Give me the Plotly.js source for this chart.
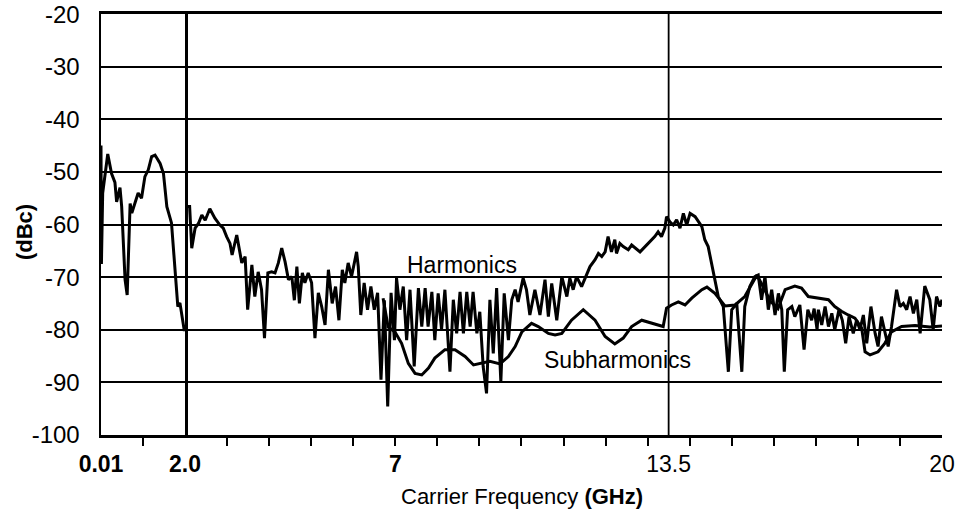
<!DOCTYPE html>
<html>
<head>
<meta charset="utf-8">
<script src="https://cdn.plot.ly/plotly-3.0.1.min.js"></script>
<style>html,body{margin:0;padding:0;background:#fff;}#chart{width:967px;height:517px;}</style>
</head>
<body>
<div id="chart"></div>
<script>
// Band 1: 0.01 - 2.0 GHz (compressed scale)
const harmLowX = [0.01, 0.02, 0.05, 0.17, 0.26, 0.34, 0.38, 0.46, 0.50, 0.58, 0.63, 0.70, 0.74, 0.82, 0.89, 0.97, 1.05, 1.13, 1.21, 1.29, 1.41, 1.49, 1.57, 1.68, 1.76, 1.83, 1.88, 1.94, 1.98, 2.00];
const harmLowY = [-45, -67.5, -54, -46.6, -50.3, -52, -55.7, -53, -56.6, -70.5, -73.4, -56, -57.8, -55.7, -54, -55, -50.9, -49.6, -47.1, -46.8, -48.4, -50.3, -56.6, -59.7, -69.2, -75.6, -74.9, -77.5, -80, -80];

// Band 2: 2 - 20 GHz, Harmonics
const harmX = [2.00, 2.00, 2.11, 2.16, 2.24, 2.32, 2.40, 2.48, 2.59, 2.71, 2.83, 2.91, 2.99, 3.07, 3.12, 3.23, 3.35, 3.43, 3.49, 3.59, 3.66, 3.74, 3.82, 3.89, 3.97, 4.06, 4.14, 4.22, 4.30, 4.38, 4.46, 4.54, 4.60, 4.66, 4.72, 4.79, 4.85, 4.93, 5.01, 5.09, 5.17, 5.25, 5.33, 5.41, 5.50, 5.58, 5.66, 5.74, 5.80, 5.88, 5.96, 6.08, 6.12, 6.18, 6.26, 6.34, 6.42, 6.50, 6.58, 6.66, 6.74, 6.82, 6.90, 6.98, 7.03, 7.11, 7.19, 7.27, 7.35, 7.45, 7.55, 7.63, 7.71, 7.78, 7.87, 7.94, 8.02, 8.10, 8.18, 8.30, 8.38, 8.46, 8.54, 8.62, 8.70, 8.78, 8.85, 8.94, 9.01, 9.09, 9.17, 9.25, 9.33, 9.41, 9.51, 9.59, 9.69, 9.77, 9.85, 9.92, 10.04, 10.12, 10.20, 10.32, 10.44, 10.56, 10.64, 10.72, 10.84, 10.96, 11.08, 11.15, 11.23, 11.31, 11.43, 11.55, 11.63, 11.75, 11.83, 11.91, 11.99, 12.06, 12.14, 12.22, 12.26, 12.34, 12.42, 12.54, 12.62, 12.82, 12.94, 13.06, 13.17, 13.25, 13.33, 13.41, 13.45, 13.53, 13.61, 13.69, 13.77, 13.85, 13.93, 14.01, 14.13, 14.29, 14.36, 14.44, 14.52, 14.60, 14.68, 14.80, 14.92, 15.00, 15.12, 15.24, 15.31, 15.43, 15.55, 15.63, 15.71, 15.79, 15.87, 15.95, 16.03, 16.11, 16.19, 16.25, 16.33, 16.43, 16.50, 16.62, 16.72, 16.81, 16.90, 16.96, 17.03, 17.06, 17.14, 17.22, 17.30, 17.38, 17.45, 17.55, 17.63, 17.71, 17.79, 17.89, 17.97, 18.05, 18.13, 18.21, 18.31, 18.41, 18.48, 18.56, 18.64, 18.72, 18.80, 18.92, 19.00, 19.08, 19.16, 19.24, 19.32, 19.40, 19.48, 19.59, 19.71, 19.79, 19.87, 19.95, 20.00];
const harmY = [-80, -56.6, -56.6, -64.5, -60.7, -59.8, -58.2, -59.2, -57, -58.8, -60.1, -60.7, -62.3, -63.6, -65.8, -62, -67.3, -66.1, -76.2, -67.7, -73.7, -69, -72.4, -81.6, -69.2, -69, -69.2, -67.3, -64.5, -67.1, -70.5, -69.9, -74.4, -68, -75, -69.2, -71.1, -69.2, -71.1, -81.6, -73, -75.6, -79.1, -68.6, -75, -71.8, -78.2, -68.6, -71.1, -67.3, -69.9, -65.2, -68, -77.2, -71.1, -76.2, -71.8, -76.2, -73, -89.5, -74.4, -94.6, -73, -82, -70.2, -76.2, -71.8, -82, -72.4, -87, -72.1, -79.4, -72.1, -79.4, -72.8, -82, -73.1, -80, -72.4, -88, -74.3, -80.7, -72.8, -80.7, -72.8, -79.4, -72.8, -80.7, -76.6, -87, -92.1, -74.3, -84.5, -72.1, -89.9, -73.1, -82, -74.3, -72.4, -74.7, -70.2, -72.4, -77.2, -72.4, -77.2, -70.5, -77.5, -71.2, -78.2, -69.9, -73.7, -70.2, -72.4, -69.9, -71.8, -69.3, -68, -66.7, -65.5, -66.1, -65.2, -62.3, -65.2, -62.9, -65.5, -63.6, -64.2, -64.8, -63.9, -65.2, -64.2, -63.3, -62.3, -61.4, -62.3, -60.7, -58.5, -59.5, -60.1, -59.1, -60.7, -57.9, -60.1, -57.9, -58.5, -60.4, -62.9, -64.2, -67.4, -70.5, -73.7, -75.6, -88, -76.2, -75, -88, -75.6, -71.8, -69.9, -69.6, -74.3, -69.9, -76.2, -72.4, -77.2, -73.1, -76.2, -88, -76.2, -75.6, -77.5, -75.3, -83.8, -76.2, -78.2, -76, -80, -76.2, -79.1, -75.6, -79.4, -76.9, -80, -76.2, -78.2, -82.6, -77.5, -80.7, -78.2, -80, -77.2, -82.6, -75.6, -80.7, -83.2, -77.5, -80.7, -83.2, -79.4, -72.4, -75.6, -75, -76.2, -73.7, -76.9, -74.3, -80.7, -71.7, -74.3, -80, -73.7, -75.6, -74.3];

// Band 2: Subharmonics
const subX = [6.71, 6.83, 6.99, 7.15, 7.31, 7.47, 7.63, 7.79, 7.94, 8.18, 8.42, 8.66, 8.86, 9.01, 9.25, 9.49, 9.69, 9.85, 10.01, 10.24, 10.40, 10.64, 10.80, 10.96, 11.19, 11.47, 11.75, 11.99, 12.22, 12.42, 12.62, 12.86, 13.10, 13.37, 13.45, 13.57, 13.73, 13.89, 14.05, 14.29, 14.41, 14.60, 14.84, 15.08, 15.31, 15.60, 15.79, 15.91, 16.10, 16.27, 16.50, 16.66, 16.82, 17.03, 17.30, 17.45, 17.61, 17.77, 17.93, 18.09, 18.17, 18.29, 18.48, 18.64, 18.80, 19.04, 19.36, 19.71, 20.00];
const subY = [-74, -79.5, -80.4, -82.6, -86.4, -88.3, -88.6, -87.3, -85.4, -83.8, -83.8, -85.1, -86.7, -86.4, -86, -86.5, -85.1, -83.2, -80.4, -78.8, -79.4, -80.7, -81, -80.7, -78.2, -76.2, -78.2, -81.3, -82.7, -81.6, -79.4, -78.2, -78.8, -79.4, -75.9, -75.3, -74.7, -75.3, -74, -72.4, -71.9, -73.1, -75.5, -75.3, -73.7, -69.6, -72.5, -74.5, -76, -72.4, -71.7, -72.1, -73.7, -74, -74.3, -75.6, -76.5, -77.2, -77.8, -79.7, -84.2, -84.8, -84.2, -82.6, -80.4, -79.4, -79.2, -79.5, -79.3];

const yTicks = [-20, -30, -40, -50, -60, -70, -80, -90, -100];
const yTickText = ['-20', '-30', '-40', '-50', '-60', '-70', '-80', '-90', '-100'];
const lowTickVals = [0.01, 2.0];
const lowTickText = ['<b>0.01</b>', '<b>2.0</b>'];
const highTickVals = [7, 13.5, 20];
const highTickText = ['<b>7</b>', '13.5', '20'];
const minorLow = [1.0];
const minorHigh = [3, 4, 5, 6, 7, 8, 9, 10, 11, 12, 13, 14, 15, 16, 17, 18, 19];

const FONT = "'Liberation Sans', Arial, Helvetica, sans-serif";
const lineStyle = {color: '#000', width: 3};

const traces = [
  {x: harmLowX, y: harmLowY, xaxis: 'x', yaxis: 'y', mode: 'lines', line: lineStyle, name: 'Harmonics', hoverinfo: 'skip'},
  {x: harmX, y: harmY, xaxis: 'x2', yaxis: 'y', mode: 'lines', line: lineStyle, name: 'Harmonics', hoverinfo: 'skip'},
  {x: subX, y: subY, xaxis: 'x2', yaxis: 'y', mode: 'lines', line: lineStyle, name: 'Subharmonics', hoverinfo: 'skip'}
];

const split = 84 / 841;

const layout = {
  width: 967, height: 517,
  margin: {l: 101, r: 25, t: 14, b: 82},
  paper_bgcolor: '#fff', plot_bgcolor: '#fff',
  showlegend: false,
  font: {family: FONT, color: '#000', size: 23},
  xaxis: {
    domain: [0, split], range: [0.01, 2.0], anchor: 'y',
    tickmode: 'array', tickvals: lowTickVals, ticktext: lowTickText,
    ticks: '', showgrid: false, zeroline: false,
    showline: true, linecolor: '#000', linewidth: 3, mirror: true,
    tickfont: {family: FONT, size: 23, color: '#000'},
    ticklabelstandoff: 6,
    minor: {tickmode: 'array', tickvals: minorLow, ticks: 'outside', ticklen: 8, tickwidth: 2, tickcolor: '#000', showgrid: false}
  },
  xaxis2: {
    domain: [split, 1], range: [2, 20], anchor: 'y',
    tickmode: 'array', tickvals: highTickVals, ticktext: highTickText,
    ticks: '', showgrid: false, zeroline: false,
    showline: true, linecolor: '#000', linewidth: 3, mirror: true,
    tickfont: {family: FONT, size: 23, color: '#000'},
    ticklabelstandoff: 6,
    minor: {tickmode: 'array', tickvals: minorHigh, ticks: 'outside', ticklen: 8, tickwidth: 2, tickcolor: '#000', showgrid: false}
  },
  yaxis: {
    range: [-100.02, -19.98], tickmode: 'array', tickvals: yTicks, ticktext: yTickText,
    ticks: '', showgrid: true, gridcolor: '#000', gridwidth: 2, zeroline: false,
    showline: true, linecolor: '#000', linewidth: 2.5, mirror: true,
    tickfont: {family: FONT, size: 24, color: '#000'},
    ticklabelstandoff: 14
  },
  shapes: [
    {type: 'line', xref: 'x2', yref: 'paper', x0: 2, x1: 2, y0: 0, y1: 1, line: {color: '#000', width: 2.8}},
    {type: 'line', xref: 'x2', yref: 'paper', x0: 13.5, x1: 13.5, y0: 0, y1: 1, line: {color: '#000', width: 1.8}}
  ],
  annotations: [
    {text: 'Harmonics', xref: 'x2', yref: 'y', x: 8.58, y: -67.7, showarrow: false, font: {family: FONT, size: 23, color: '#000'}},
    {text: 'Subharmonics', xref: 'x2', yref: 'y', x: 12.29, y: -85.7, showarrow: false, font: {family: FONT, size: 23, color: '#000'}},
    {text: 'Carrier Frequency <b>(GHz)</b>', xref: 'paper', yref: 'paper', x: 0.5, y: -0.147, xanchor: 'center', yanchor: 'middle', showarrow: false, font: {family: FONT, size: 22, color: '#000'}},
    {text: '<b>(dBc)</b>', xref: 'paper', yref: 'paper', x: -0.0916, y: 0.482, xanchor: 'center', yanchor: 'middle', textangle: -90, showarrow: false, font: {family: FONT, size: 22, color: '#000'}}
  ]
};

Plotly.newPlot('chart', traces, layout, {displayModeBar: false, staticPlot: true});
</script>
</body>
</html>
